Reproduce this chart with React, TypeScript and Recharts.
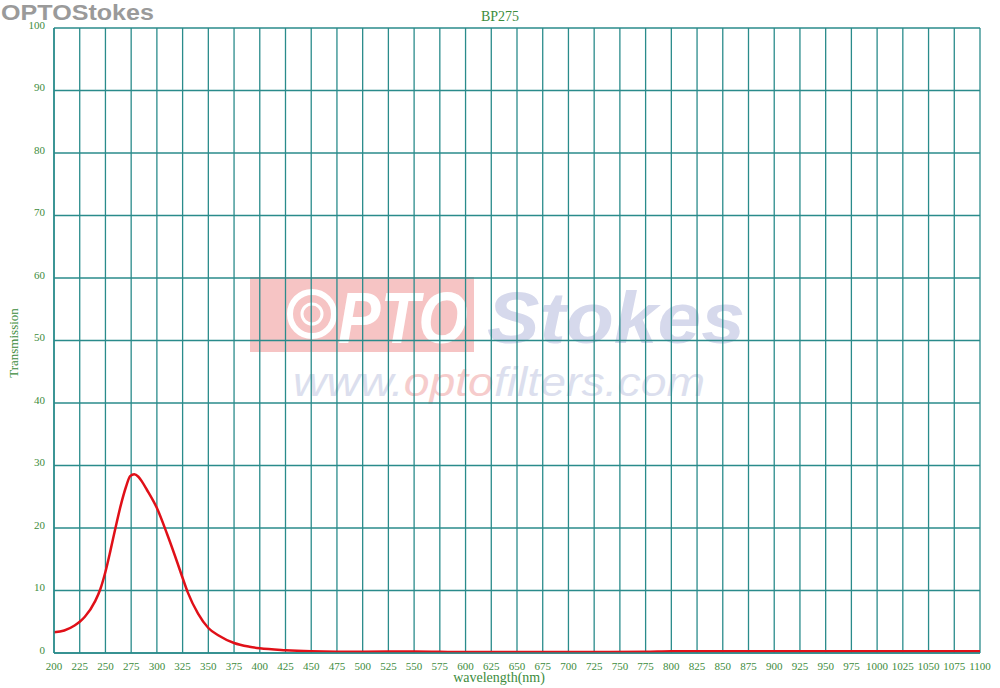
import React from 'react';
import { LineChart, Line, XAxis, YAxis, CartesianGrid } from 'recharts';

const wavelengths = [200, 210, 220, 225, 230, 240, 245, 250, 255, 260, 265, 270, 274, 278, 282, 286, 290, 300, 310, 320, 325, 330, 340, 350, 360, 375, 390, 400, 425, 450, 500, 550, 600, 700, 775, 800, 900, 1000, 1100];
const transmission = [3.3, 3.6, 4.4, 5.0, 5.8, 8.3, 10.2, 13.0, 16.5, 20.2, 23.7, 26.6, 28.3, 28.6, 28.2, 27.3, 26.2, 23.2, 19.0, 14.4, 12.0, 9.7, 6.3, 4.0, 2.8, 1.6, 1.0, 0.75, 0.45, 0.3, 0.2, 0.25, 0.15, 0.15, 0.2, 0.3, 0.3, 0.3, 0.3];
const xTicks = Array.from({ length: 37 }, (_, i) => 200 + i * 25);
const yTicks = [0, 10, 20, 30, 40, 50, 60, 70, 80, 90, 100];
const title = 'BP275';
const xLabel = 'wavelength(nm)';
const yLabel = 'Transmission';

const data = wavelengths.map((w, i) => ({ w, t: transmission[i] }));

const GREEN = '#3d8c3d';
const GRID = '#2a8b8b';
const SERIF = '"Liberation Serif", "DejaVu Serif", serif';

export default function App() {
  return (
    <div style={{ position: 'absolute', left: 0, top: 0, width: 1000, height: 688, background: '#fff' }}>
      <svg width={1000} height={688} style={{ position: 'absolute', left: 0, top: 0 }}>
        <text x={1} y={20} fontFamily="'Liberation Sans', sans-serif" fontWeight="bold" fontSize={22} fill="#9a9a9a" textLength={153} lengthAdjust="spacingAndGlyphs">OPTOStokes</text>
        <rect x={250} y={277} width={224} height={75} fill="#f6c4c4" />
        <circle cx={312} cy={314} r={22} fill="none" stroke="#fff" strokeWidth={6} />
        <circle cx={312} cy={314} r={10} fill="none" stroke="#fff" strokeWidth={3} />
        <text x={338} y={343} fontFamily="'Liberation Sans', sans-serif" fontStyle="italic" fontWeight="bold" fontSize={72} fill="#fff" textLength={130} lengthAdjust="spacingAndGlyphs">PTO</text>
        <text x={487} y={343} fontFamily="'Liberation Sans', sans-serif" fontStyle="italic" fontWeight="bold" fontSize={72} fill="#d6d9ec" textLength={258} lengthAdjust="spacingAndGlyphs">Stokes</text>
        <text x={293} y={396} fontFamily="'Liberation Sans', sans-serif" fontStyle="italic" fontSize={40} fill="#dcdfee" textLength={412} lengthAdjust="spacingAndGlyphs">
          www.<tspan fill="#f6cccc">opto</tspan>filters.com
        </text>
      </svg>
      <div style={{ position: 'absolute', left: 0, top: 0 }}>
        <LineChart width={1000} height={688} data={data} margin={{ top: 28, right: 20, bottom: 0, left: 0 }}>
          <CartesianGrid stroke={GRID} strokeWidth={1.3} horizontalValues={yTicks} verticalValues={xTicks} />
          <XAxis
            dataKey="w"
            type="number"
            domain={[200, 1100]}
            ticks={xTicks}
            interval={0}
            height={35}
            stroke={GRID}
            strokeWidth={1.5}
            tickLine={false}
            tickMargin={3}
            tick={{ fill: GREEN, fontSize: 11, fontFamily: SERIF }}
            allowDataOverflow
          />
          <YAxis
            type="number"
            domain={[0, 100]}
            ticks={yTicks}
            interval={0}
            width={54}
            stroke={GRID}
            strokeWidth={1.5}
            tickLine={false}
            tickMargin={3}
            tick={{ fill: GREEN, fontSize: 11, fontFamily: SERIF, dy: -3 }}
          />
          <Line type="monotone" dataKey="t" stroke="#e01018" strokeWidth={2.5} dot={false} isAnimationActive={false} />
          <text x={500} y={21} textAnchor="middle" fill={GREEN} fontSize={14} fontFamily={SERIF}>{title}</text>
          <text x={499} y={682} textAnchor="middle" fill={GREEN} fontSize={14} fontFamily={SERIF}>{xLabel}</text>
          <text x={13} y={343} textAnchor="middle" dominantBaseline="central" fill={GREEN} fontSize={13} fontFamily={SERIF} transform="rotate(-90 13 343)">{yLabel}</text>
        </LineChart>
      </div>
    </div>
  );
}
